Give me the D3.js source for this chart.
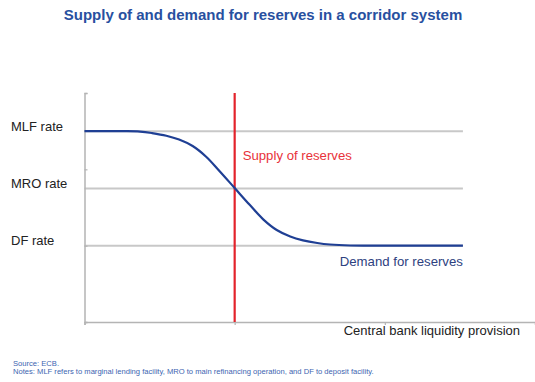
<!DOCTYPE html>
<html>
<head>
<meta charset="utf-8">
<script src="https://cdn.jsdelivr.net/npm/d3@7"></script>
<style>
  html, body { margin: 0; padding: 0; background: #fff; }
  svg { display: block; font-family: "Liberation Sans", Arial, sans-serif; }
</style>
</head>
<body>
<svg id="chart" width="535" height="382"></svg>
<script>
// Stylised corridor: policy rates in arbitrary units
const rateNames = ["MLF rate", "MRO rate", "DF rate"];
const rateLevels = [2.5, 1.75, 1.0];

// Reserve supply sits at a fixed amount of liquidity
const supplyLevel = 1.0;

// Demand for reserves (liquidity on x, rate on y)
const demandX = [0, 0.25, 0.37, 0.45, 0.545, 0.63, 0.72, 0.81, 0.90, 1.0, 1.10, 1.19, 1.28, 1.37, 1.455, 1.55, 1.635, 1.77, 2.0, 2.52];
const demandY = [2.5, 2.5, 2.495, 2.475, 2.44, 2.39, 2.305, 2.165, 1.975, 1.755, 1.535, 1.345, 1.205, 1.12, 1.07, 1.035, 1.015, 1.002, 1.0, 1.0];

const xTicks = [0, 1, 2];
const yTicks = [0, 1, 2, 3];

const svg = d3.select("#chart");
const x = d3.scaleLinear().domain([0, 3]).range([84.5, 535]);
const y = d3.scaleLinear().domain([0, 3]).range([322, 93]);
const gridEnd = 2.52;

// Title
svg.append("text")
  .attr("x", 263).attr("y", 20)
  .attr("text-anchor", "middle")
  .attr("font-size", 15).attr("font-weight", "bold")
  .attr("fill", "#2850a0")
  .text("Supply of and demand for reserves in a corridor system");

// Rate gridlines
svg.selectAll(".rate").data(rateLevels).join("line")
  .attr("x1", x(0)).attr("x2", x(gridEnd))
  .attr("y1", d => y(d)).attr("y2", d => y(d))
  .attr("stroke", "#c8c8c8").attr("stroke-width", 2);

// Axes
const yAxis = svg.append("g").attr("transform", `translate(${x(0)},0)`)
  .call(d3.axisRight(y).tickValues(yTicks).tickSize(3).tickFormat(""));
const xAxis = svg.append("g").attr("transform", `translate(0,${y(0)})`)
  .call(d3.axisBottom(x).tickValues(xTicks).tickSize(3).tickFormat(""));
[yAxis, xAxis].forEach(g => {
  g.select(".domain").attr("stroke", "#b4b4b4").attr("stroke-width", 1.5);
  g.selectAll(".tick line").attr("stroke", "#b4b4b4").attr("stroke-width", 1.2);
});

// Rate labels
svg.selectAll(".rlab").data(rateNames).join("text")
  .attr("x", 11).attr("y", (d, i) => y(rateLevels[i]) - 0.5)
  .attr("font-size", 13).attr("fill", "#222")
  .text(d => d);

// Supply of reserves
svg.append("line")
  .attr("x1", x(supplyLevel)).attr("x2", x(supplyLevel))
  .attr("y1", y(3)).attr("y2", y(0))
  .attr("stroke", "#e3232b").attr("stroke-width", 2.2);
svg.append("text")
  .attr("x", x(supplyLevel) + 8).attr("y", 159.5)
  .attr("font-size", 13.2).attr("fill", "#e8323a")
  .text("Supply of reserves");

// Demand for reserves
const demand = demandX.map((v, i) => [v, demandY[i]]);
svg.append("path").datum(demand)
  .attr("fill", "none").attr("stroke", "#1f3f94").attr("stroke-width", 2.2)
  .attr("d", d3.line().x(d => x(d[0])).y(d => y(d[1])).curve(d3.curveCatmullRom.alpha(0.5)));
svg.append("text")
  .attr("x", x(gridEnd)).attr("y", 265.5)
  .attr("text-anchor", "end")
  .attr("font-size", 13.2).attr("fill", "#2d4180")
  .text("Demand for reserves");

// Axis title
svg.append("text")
  .attr("x", 520).attr("y", 335)
  .attr("text-anchor", "end")
  .attr("font-size", 13).attr("fill", "#222")
  .text("Central bank liquidity provision");

// Footnotes
svg.append("text")
  .attr("x", 13).attr("y", 366)
  .attr("font-size", 7.6).attr("fill", "#3c64b0")
  .text("Source: ECB.");
svg.append("text")
  .attr("x", 13).attr("y", 374)
  .attr("font-size", 7.6).attr("fill", "#3c64b0")
  .text("Notes: MLF refers to marginal lending facility, MRO to main refinancing operation, and DF to deposit facility.");
</script>
</body>
</html>
